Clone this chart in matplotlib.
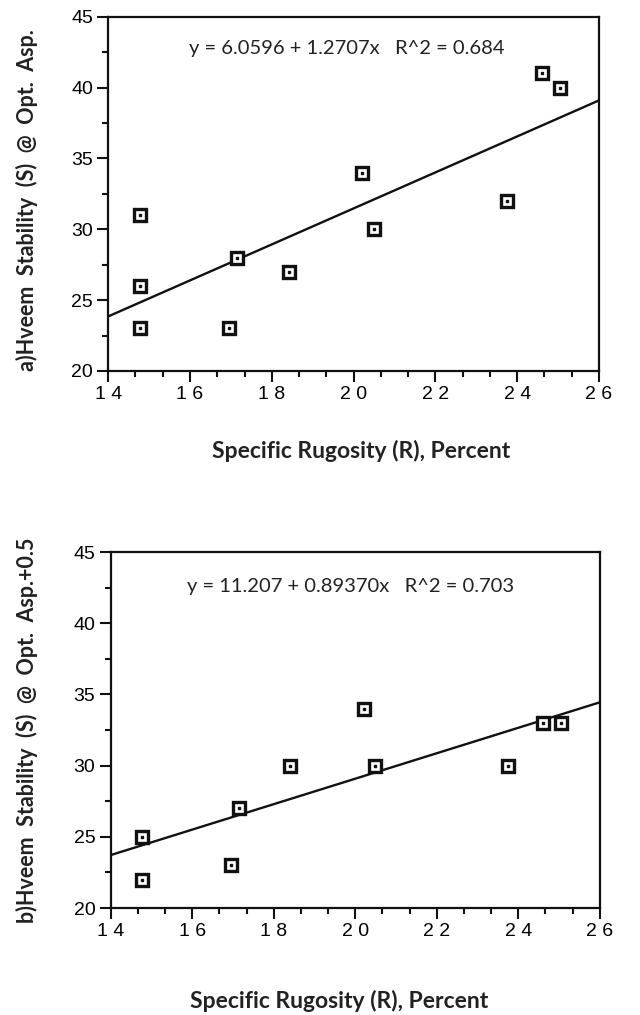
import numpy as np
import matplotlib.pyplot as plt
from matplotlib.ticker import MultipleLocator

# data
rug_a = [14.77, 14.77, 14.77, 16.96, 17.16, 18.42, 20.21, 20.49, 23.74, 24.61, 25.05]
stab_a = [31, 26, 23, 23, 28, 27, 34, 30, 32, 41, 40]
rug_b = [14.77, 14.77, 16.94, 17.16, 18.41, 20.22, 20.49, 23.74, 24.60, 25.05]
stab_b = [22, 25, 23, 27, 30, 34, 30, 30, 33, 33]
fit_a = (6.0596, 1.2707)
fit_b = (11.207, 0.89370)
eq_a = 'y = 6.0596 + 1.2707x   R^2 = 0.684'
eq_b = 'y = 11.207 + 0.89370x   R^2 = 0.703'
ylab_a = 'a)Hveem  Stability  (S)  @  Opt.  Asp.'
ylab_b = 'b)Hveem  Stability  (S)  @  Opt.  Asp.+0.5'
xlab = 'Specific Rugosity (R), Percent'
xticks = [14, 16, 18, 20, 22, 24, 26]
xticklabels = ['1 4', '1 6', '1 8', '2 0', '2 2', '2 4', '2 6']
yticks = [20, 25, 30, 35, 40, 45]

fig = plt.figure(figsize=(6.4, 10.15), dpi=100)
ax1 = fig.add_axes([0.169, 0.6345, 0.767, 0.349])
ax2 = fig.add_axes([0.173, 0.1054, 0.764, 0.3507])


def panel(ax, xs, ys, fit, eq, ex, ey):
    xx = np.array([14, 26])
    ax.plot(xx, fit[0] + fit[1] * xx, color='#111111', lw=1.7, zorder=2)
    ax.plot(xs, ys, 's', ms=9, mfc='white', mec='#111111', mew=2.4, zorder=3)
    ax.plot(xs, ys, 's', ms=1.6, mfc='#111111', mec='#111111', zorder=4)
    ax.set_xlim(14, 26)
    ax.set_ylim(20, 45)
    ax.set_xticks(xticks)
    ax.set_xticklabels(xticklabels, family='Liberation Sans', fontsize=14)
    ax.set_yticks(yticks)
    ax.set_yticklabels([str(v) for v in yticks], family='Liberation Sans', fontsize=14)
    ax.xaxis.set_minor_locator(MultipleLocator(2 / 3))
    ax.yaxis.set_minor_locator(MultipleLocator(2.5))
    ax.tick_params(which='major', direction='out', length=8, width=1.5, color='#111111', pad=3)
    ax.tick_params(which='minor', direction='out', length=4, width=1.5, color='#111111')
    for s in ax.spines.values():
        s.set_linewidth(1.6)
        s.set_color('#111111')
    ax.text(ex, ey, eq, transform=ax.transAxes, ha='center', va='center',
            family='Lato', fontsize=14.5, color='#222222')


panel(ax1, rug_a, stab_a, fit_a, eq_a, 0.487, 0.91)
panel(ax2, rug_b, stab_b, fit_b, eq_b, 0.49, 0.904)

fig.text(361 / 640, 1 - 451 / 1015, xlab, ha='center', va='center',
         family='Lato', fontweight='bold', fontsize=16.5, color='#222222')
fig.text(339 / 640, 1 - 1001 / 1015, xlab, ha='center', va='center',
         family='Lato', fontweight='bold', fontsize=16.5, color='#222222')
fig.text(27 / 640, 1 - 200 / 1015, ylab_a, rotation=90, ha='center', va='center',
         family='Lato', fontweight='bold', fontsize=15.5, color='#222222')
fig.text(27 / 640, 1 - 730 / 1015, ylab_b, rotation=90, ha='center', va='center',
         family='Lato', fontweight='bold', fontsize=15.5, color='#222222')

fig.savefig('out.png', dpi=100)
